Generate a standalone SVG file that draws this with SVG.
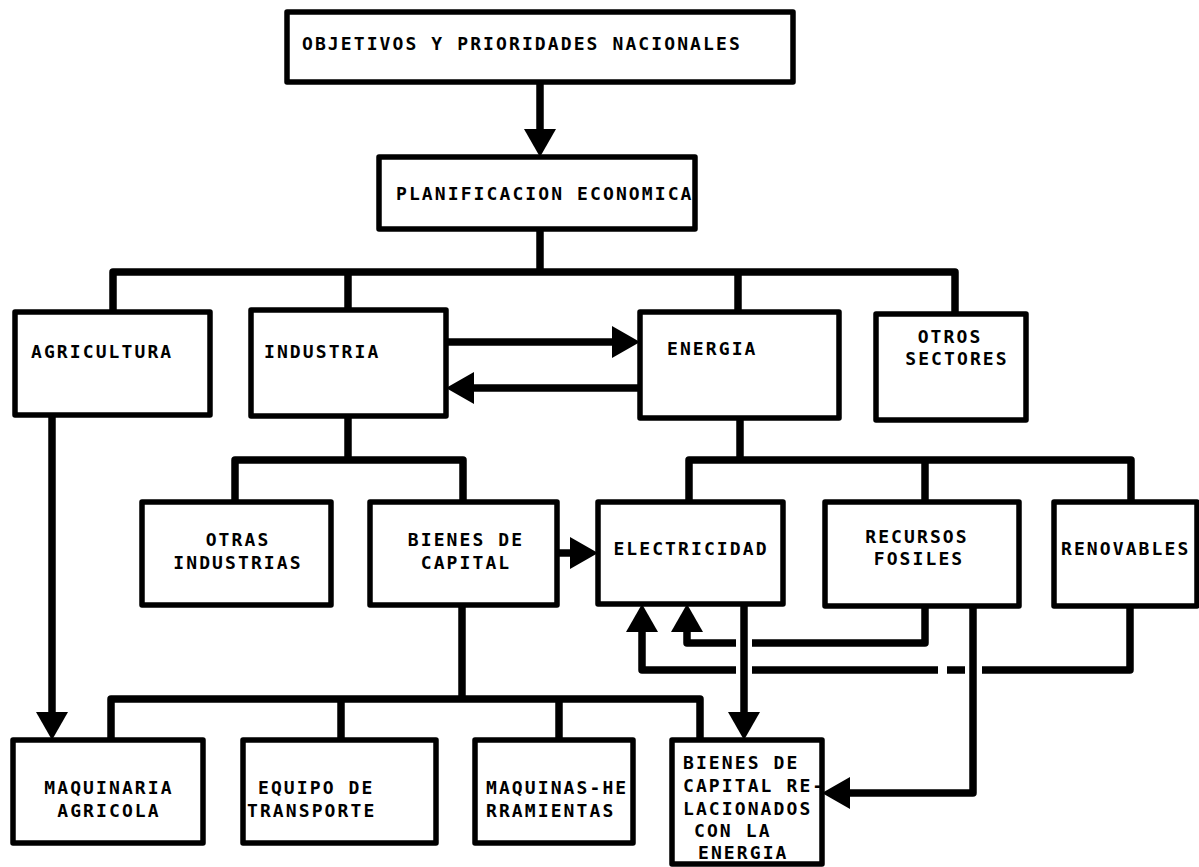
<svg xmlns="http://www.w3.org/2000/svg" width="1199" height="867" viewBox="0 0 1199 867">
<style>
.box{fill:#fff;stroke:#000;stroke-width:5.5;stroke-linejoin:round}
.ln{fill:none;stroke:#000;stroke-width:7.5;stroke-linejoin:round}
.ar{marker-end:url(#ah)}
text{font-family:"DejaVu Sans Mono","Liberation Mono",monospace;font-weight:bold;font-size:18px;letter-spacing:2.1px;fill:#000}
.c{text-anchor:middle}
</style>
<defs>
<marker id="ah" markerUnits="userSpaceOnUse" markerWidth="30" markerHeight="32" viewBox="0 0 30 32" refX="8" refY="16" orient="auto"><path d="M0,0 L28,16 L0,32 Z" fill="#000"/></marker>
</defs>
<rect width="1199" height="867" fill="#fff"/>
<g id="connectors">
<path class="ln ar" d="M540,82 V137"/>
<path class="ln" d="M540,229 V272"/>
<path class="ln" d="M113,312 V272 H955 V314"/>
<path class="ln" d="M348,272 V310"/>
<path class="ln" d="M738,272 V312"/>
<path class="ln ar" d="M446,342 H620"/>
<path class="ln ar" d="M640,388 H466"/>
<path class="ln" d="M348,416 V460"/>
<path class="ln" d="M235,502 V460 H463 V502"/>
<path class="ln" d="M740,418 V460"/>
<path class="ln" d="M689,502 V460 H1131 V502"/>
<path class="ln" d="M925,460 V502"/>
<path class="ln ar" d="M557,553 H578"/>
<path class="ln ar" d="M52,415 V720"/>
<path class="ln" d="M462,605 V699"/>
<path class="ln" d="M111,740 V699 H700 V740"/>
<path class="ln" d="M341,699 V740"/>
<path class="ln" d="M559,699 V740"/>
<path class="ln" d="M925,606 V643 H752"/>
<path class="ln ar" d="M736,643 H687 V624"/>
<path class="ln" d="M1130,606 V670 H982"/>
<path class="ln" d="M965,670 H947"/>
<path class="ln" d="M938,670 H752"/>
<path class="ln ar" d="M736,670 H642 V624"/>
<path class="ln ar" d="M744,604 V720"/>
<path class="ln ar" d="M973,606 V793 H842"/>
</g>
<g id="n-objetivos"><rect class="box" x="287" y="12" width="506" height="70"/><text x="302" y="50">OBJETIVOS Y PRIORIDADES NACIONALES</text></g>
<g id="n-planificacion"><rect class="box" x="379" y="157" width="316" height="72"/><text x="396" y="200">PLANIFICACION ECONOMICA</text></g>
<g id="n-agricultura"><rect class="box" x="15" y="312" width="195" height="103"/><text x="31" y="358">AGRICULTURA</text></g>
<g id="n-industria"><rect class="box" x="251" y="310" width="195" height="106"/><text x="264" y="358">INDUSTRIA</text></g>
<g id="n-energia"><rect class="box" x="640" y="312" width="199" height="106"/><text x="667" y="355">ENERGIA</text></g>
<g id="n-otros"><rect class="box" x="876" y="314" width="150" height="106"/><text class="c" x="950" y="343">OTROS</text><text class="c" x="957" y="365">SECTORES</text></g>
<g id="n-otras"><rect class="box" x="142" y="502" width="189" height="103"/><text class="c" x="238" y="546">OTRAS</text><text class="c" x="238" y="569">INDUSTRIAS</text></g>
<g id="n-bienescap"><rect class="box" x="370" y="502" width="187" height="103"/><text class="c" x="466" y="546">BIENES DE</text><text class="c" x="466" y="569">CAPITAL</text></g>
<g id="n-electricidad"><rect class="box" x="598" y="502" width="185" height="102"/><text class="c" x="691" y="555">ELECTRICIDAD</text></g>
<g id="n-recursos"><rect class="box" x="825" y="502" width="194" height="104"/><text class="c" x="917" y="543">RECURSOS</text><text class="c" x="919" y="565">FOSILES</text></g>
<g id="n-renovables"><rect class="box" x="1054" y="502" width="143" height="104"/><text x="1061" y="555">RENOVABLES</text></g>
<g id="n-maquinaria"><rect class="box" x="13" y="740" width="190" height="103"/><text class="c" x="109" y="794">MAQUINARIA</text><text class="c" x="109" y="817">AGRICOLA</text></g>
<g id="n-equipo"><rect class="box" x="243" y="740" width="193" height="103"/><text x="258" y="794">EQUIPO DE</text><text x="247" y="817">TRANSPORTE</text></g>
<g id="n-maquinas"><rect class="box" x="475" y="740" width="158" height="103"/><text x="486" y="794">MAQUINAS-HE</text><text x="486" y="817">RRAMIENTAS</text></g>
<g id="n-bienesrel"><rect class="box" x="672" y="740" width="150" height="124"/><text x="683" y="769">BIENES DE</text><text x="683" y="792">CAPITAL RE-</text><text x="683" y="815">LACIONADOS</text><text x="694" y="837">CON LA</text><text x="698" y="859">ENERGIA</text></g>
</svg>
